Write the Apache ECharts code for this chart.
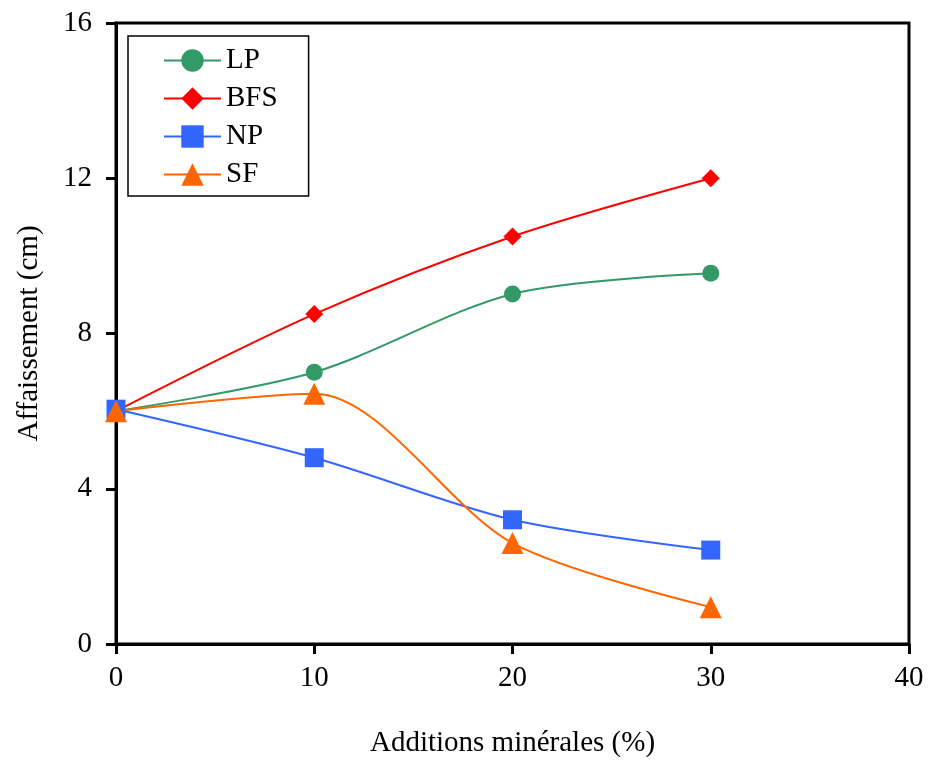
<!DOCTYPE html>
<html><head><meta charset="utf-8">
<script src="https://cdn.jsdelivr.net/npm/echarts@6/dist/echarts.min.js"></script>
<style>html,body{margin:0;padding:0;background:#fff}#c{width:929px;height:763px}</style>
</head><body><div id="c"></div>
<script>
const xValues = [0, 10, 20, 30];
const lpValues = [6.0, 7.0, 9.02, 9.55];
const bfsValues = [6.0, 8.5, 10.5, 12.0];
const npValues = [6.05, 4.8, 3.2, 2.42];
const sfValues = [6.0, 6.45, 2.6, 0.95];
const xTicks = [0, 10, 20, 30, 40];
const yTicks = [0, 4, 8, 12, 16];

const font = 'Liberation Serif, Times New Roman, serif';
function mk(name, vals, color, symbol, size) {
  return {
    name, type: 'line', smooth: 0.3,
    data: xValues.map((x, i) => [x, vals[i]]),
    symbol, symbolSize: size,
    lineStyle: { color, width: 2 },
    itemStyle: { color },
    z: 3
  };
}
const chart = echarts.init(document.getElementById('c'));
chart.setOption({
  animation: false,
  backgroundColor: '#fff',
  textStyle: { fontFamily: font },
  grid: { left: 116, top: 23, width: 793, height: 622, show: true, borderColor: '#000', borderWidth: 3, backgroundColor: 'transparent' },
  legend: {
    orient: 'vertical', left: 128, top: 36,
    padding: [10, 31, 7, 35],
    itemWidth: 57, itemHeight: 28, itemGap: 9,
    borderColor: '#000', borderWidth: 1.5, backgroundColor: '#fff',
    textStyle: { fontFamily: font, fontSize: 29, color: '#000', lineHeight: 29 },
    data: ['LP', 'BFS', 'NP', 'SF']
  },
  xAxis: {
    type: 'value', min: 0, max: 40, interval: 10,
    name: 'Additions minérales (%)', nameLocation: 'middle', nameGap: 85,
    nameTextStyle: { fontFamily: font, fontSize: 29, color: '#000' },
    axisLine: { lineStyle: { color: '#000', width: 3 } },
    axisTick: { length: 10, lineStyle: { color: '#000', width: 3 } },
    axisLabel: { fontFamily: font, fontSize: 29, color: '#000', margin: 20,
      formatter: v => xTicks.includes(v) ? String(v) : '' },
    splitLine: { show: false }
  },
  yAxis: {
    type: 'value', min: 0, max: 16, interval: 4,
    name: 'Affaissement (cm)', nameLocation: 'middle', nameGap: 72,
    nameTextStyle: { fontFamily: font, fontSize: 29, color: '#000' },
    axisLine: { lineStyle: { color: '#000', width: 3 } },
    axisTick: { length: 10, lineStyle: { color: '#000', width: 3 } },
    axisLabel: { fontFamily: font, fontSize: 29, color: '#000', margin: 24,
      formatter: v => yTicks.includes(v) ? String(v) : '' },
    splitLine: { show: false }
  },
  series: [
    mk('LP', lpValues, '#339966', 'circle', 17),
    mk('BFS', bfsValues, '#FF0000', 'diamond', 18),
    mk('NP', npValues, '#3366FF', 'rect', 19),
    mk('SF', sfValues, '#FF6600', 'triangle', 22)
  ]
});
</script></body></html>
